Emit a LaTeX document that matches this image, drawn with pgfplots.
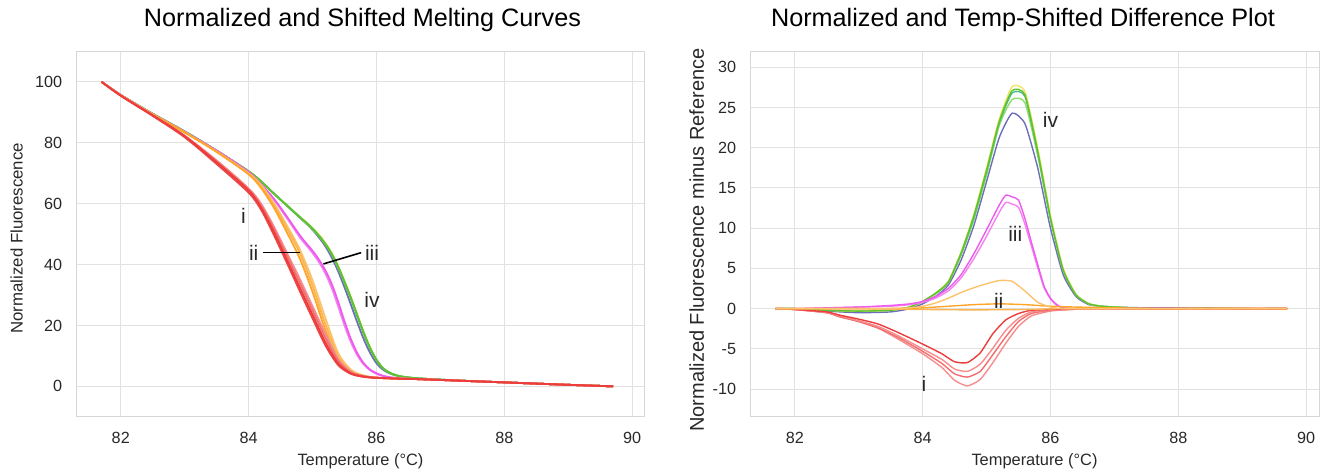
\documentclass[border=0pt]{standalone}
\usepackage{fontspec}
\setmainfont{Liberation Sans}
\usepackage{pgfplots}
\pgfplotsset{compat=1.18}

\definecolor{gridgray}{RGB}{226,226,226}
\definecolor{framegray}{RGB}{215,215,215}
\definecolor{txt}{RGB}{40,40,40}
\definecolor{redA}{RGB}{236,60,60}
\definecolor{redB}{RGB}{242,110,110}
\definecolor{redC}{RGB}{246,140,140}
\definecolor{redD}{RGB}{236,70,70}
\definecolor{orA}{RGB}{255,165,40}
\definecolor{orB}{RGB}{252,195,110}
\definecolor{orC}{RGB}{250,180,80}
\definecolor{magA}{RGB}{238,90,238}
\definecolor{magB}{RGB}{245,130,240}
\definecolor{grA}{RGB}{95,195,45}
\definecolor{grB}{RGB}{140,220,110}
\definecolor{grC}{RGB}{80,185,140}
\definecolor{yelA}{RGB}{240,230,100}
\definecolor{bluA}{RGB}{110,110,185}

\pgfplotsset{panel/.style={
  scale only axis, width=284.5pt, height=182.25pt,
  xmin=81.3, xmax=90.2,
  xtick={82,84,86,88,90}, xticklabels={82,84,86,88,90},
  grid=major, major grid style={draw=gridgray, line width=0.5pt},
  axis line style={draw=framegray, line width=0.5pt},
  major tick length=0pt,
  tick label style={font=\fontsize{8.1}{9}\selectfont, text=txt},
  xticklabel style={anchor=center, yshift=-10.75pt},
  yticklabel style={anchor=east, inner sep=0pt, xshift=-6.75pt},
  xlabel={Temperature (°C)},
  xlabel style={at={(axis description cs:0.5,0)}, anchor=center,
                yshift=-22.6pt, font=\fontsize{8.2}{10}\selectfont, text=txt},
  title style={font=\fontsize{12.6}{15}\selectfont, at={(axis description cs:0.5,1)},
               anchor=center, yshift=10pt},
  clip=true,
}}
\tikzset{lab/.style={font=\fontsize{10.5}{12}\selectfont, text=txt}}

\begin{document}
\begin{tikzpicture}
\useasboundingbox (0,0) rectangle (661pt,237pt);

% ---- left: melting curves
\begin{axis}[panel, at={(38pt,28.75pt)},
  title={Normalized and Shifted Melting Curves}, title style={xshift=1pt},
  ymin=-9.9, ymax=109.8, ytick={0,20,40,60,80,100},
  yticklabels={0,20,40,60,80,100},
  ylabel={Normalized Fluorescence},
  ylabel style={at={(axis description cs:-0.1042,0.489)}, anchor=center,
                font=\fontsize{8.4}{10}\selectfont, text=txt},
  every axis plot/.append style={line width=0.9pt, smooth},
]
% iv
\addplot[bluA] coordinates {(81.7,100) (82.0,95.7) (82.5,89.5) (83.0,83.7) (83.5,77.4) (84.0,70.6) (84.2,67.2) (84.4,63.2) (84.6,59.3) (84.8,55.4) (84.9,53.5) (85.0,51.4) (85.1,48.9) (85.2,46.0) (85.3,42.3) (85.4,37.8) (85.5,32.5) (85.6,26.8) (85.7,21.0) (85.8,15.5) (85.9,11.0) (86.0,7.6) (86.1,5.5) (86.2,4.3) (86.3,3.6) (86.4,3.1) (86.6,2.7) (87.0,2.2) (87.5,1.7) (88.0,1.3) (88.5,0.9) (89.0,0.5) (89.7,0.0)};
\addplot[yelA] coordinates {(81.7,100) (82.0,95.7) (82.5,89.5) (83.0,83.7) (83.5,77.4) (84.0,70.6) (84.2,67.2) (84.4,63.2) (84.6,59.4) (84.8,55.7) (84.9,53.9) (85.0,52.0) (85.1,49.8) (85.2,47.1) (85.3,43.8) (85.4,39.6) (85.5,34.6) (85.6,29.3) (85.7,23.6) (85.8,17.9) (85.9,12.8) (86.0,8.8) (86.1,6.1) (86.2,4.6) (86.3,3.7) (86.4,3.2) (86.6,2.7) (87.0,2.2) (87.5,1.7) (88.0,1.3) (88.5,0.9) (89.0,0.5) (89.7,0.0)};
\addplot[grB] coordinates {(81.7,100) (82.0,95.7) (82.5,89.5) (83.0,83.7) (83.5,77.4) (84.0,70.6) (84.2,67.2) (84.4,63.2) (84.6,59.4) (84.8,55.5) (84.9,53.6) (85.0,51.6) (85.1,49.3) (85.2,46.6) (85.3,43.3) (85.4,39.0) (85.5,34.0) (85.6,28.7) (85.7,23.0) (85.8,17.3) (85.9,12.4) (86.0,8.6) (86.1,5.9) (86.2,4.5) (86.3,3.7) (86.4,3.2) (86.6,2.7) (87.0,2.2) (87.5,1.7) (88.0,1.3) (88.5,0.9) (89.0,0.5) (89.7,0.0)};
\addplot[grC] coordinates {(81.7,100) (82.0,95.7) (82.5,89.5) (83.0,83.7) (83.5,77.4) (84.0,70.6) (84.2,67.2) (84.4,63.2) (84.6,59.4) (84.8,55.6) (84.9,53.7) (85.0,51.7) (85.1,49.4) (85.2,46.7) (85.3,43.4) (85.4,39.2) (85.5,34.2) (85.6,28.9) (85.7,23.2) (85.8,17.5) (85.9,12.5) (86.0,8.7) (86.1,6.0) (86.2,4.5) (86.3,3.7) (86.4,3.2) (86.6,2.7) (87.0,2.2) (87.5,1.7) (88.0,1.3) (88.5,0.9) (89.0,0.5) (89.7,0.0)};
\addplot[grA] coordinates {(81.7,100) (82.0,95.7) (82.5,89.5) (83.0,83.7) (83.5,77.4) (84.0,70.6) (84.2,67.2) (84.4,63.2) (84.6,59.4) (84.8,55.6) (84.9,53.8) (85.0,51.8) (85.1,49.5) (85.2,46.8) (85.3,43.5) (85.4,39.3) (85.5,34.3) (85.6,29.0) (85.7,23.3) (85.8,17.6) (85.9,12.6) (86.0,8.7) (86.1,6.0) (86.2,4.5) (86.3,3.7) (86.4,3.2) (86.6,2.7) (87.0,2.2) (87.5,1.7) (88.0,1.3) (88.5,0.9) (89.0,0.5) (89.7,0.0)};
% iii
\addplot[magB] coordinates {(81.7,100) (82.0,95.7) (82.5,89.4) (83.0,83.5) (83.5,77.3) (84.0,70.3) (84.2,66.1) (84.4,61.2) (84.6,55.2) (84.8,49.0) (84.9,46.4) (85.0,43.8) (85.1,40.8) (85.2,37.1) (85.3,32.3) (85.4,26.3) (85.5,20.0) (85.6,14.5) (85.7,10.2) (85.8,7.2) (85.9,5.3) (86.0,4.1) (86.1,3.4) (86.2,3.0) (86.4,2.6) (86.6,2.4) (87.0,2.1) (87.5,1.7) (88.0,1.3) (88.5,0.9) (89.0,0.5) (89.7,0.0)};
\addplot[magA] coordinates {(81.7,100) (82.0,95.7) (82.5,89.4) (83.0,83.6) (83.5,77.4) (84.0,70.4) (84.2,66.3) (84.4,61.5) (84.6,55.7) (84.8,49.6) (84.9,47.0) (85.0,44.5) (85.1,41.6) (85.2,38.1) (85.3,33.6) (85.4,27.8) (85.5,21.3) (85.6,15.5) (85.7,10.9) (85.8,7.6) (85.9,5.5) (86.0,4.3) (86.1,3.5) (86.2,3.0) (86.4,2.6) (86.6,2.4) (87.0,2.1) (87.5,1.7) (88.0,1.3) (88.5,0.9) (89.0,0.5) (89.7,0.0)};
% ii
\addplot[orB] coordinates {(81.7,100) (82.0,95.6) (82.5,89.3) (83.0,83.4) (83.5,77.1) (84.0,70.0) (84.2,66.0) (84.4,60.0) (84.6,52.8) (84.8,45.0) (85.0,34.8) (85.2,22.5) (85.4,11.0) (85.6,5.5) (85.8,3.6) (86.0,2.9) (86.4,2.5) (86.6,2.4) (87.0,2.1) (87.5,1.7) (88.0,1.3) (88.5,0.9) (89.0,0.5) (89.7,0.0)};
\addplot[orC] coordinates {(81.7,100) (82.0,95.6) (82.5,89.3) (83.0,83.4) (83.5,77.0) (84.0,69.8) (84.2,65.5) (84.4,59.3) (84.6,51.8) (84.8,43.8) (85.0,33.0) (85.2,20.5) (85.4,9.8) (85.6,5.0) (85.8,3.4) (86.0,2.8) (86.4,2.5) (86.6,2.4) (87.0,2.1) (87.5,1.7) (88.0,1.3) (88.5,0.9) (89.0,0.5) (89.7,0.0)};
\addplot[orA] coordinates {(81.7,100) (82.0,95.6) (82.5,89.3) (83.0,83.4) (83.5,77.0) (84.0,69.6) (84.2,65.0) (84.4,58.5) (84.6,50.5) (84.8,42.0) (85.0,31.0) (85.2,18.5) (85.4,8.5) (85.6,4.5) (85.8,3.3) (86.0,2.8) (86.4,2.5) (86.6,2.4) (87.0,2.1) (87.5,1.7) (88.0,1.3) (88.5,0.9) (89.0,0.5) (89.7,0.0)};
% i
\addplot[redC] coordinates {(81.7,100) (82.0,95.5) (82.5,89.0) (83.0,82.3) (83.5,74.2) (84.0,65.0) (84.2,59.8) (84.4,52.3) (84.6,43.8) (84.8,35.3) (85.0,26.3) (85.2,17.3) (85.4,9.0) (85.6,4.8) (85.8,3.4) (86.0,2.9) (86.4,2.5) (86.6,2.4) (87.0,2.1) (87.5,1.7) (88.0,1.3) (88.5,0.9) (89.0,0.5) (89.7,0.0)};
\addplot[redB] coordinates {(81.7,100) (82.0,95.5) (82.5,89.0) (83.0,82.2) (83.5,73.8) (84.0,64.6) (84.2,59.2) (84.4,51.5) (84.6,42.8) (84.8,34.0) (85.0,25.0) (85.2,16.0) (85.4,8.3) (85.6,4.5) (85.8,3.3) (86.0,2.8) (86.4,2.5) (86.6,2.4) (87.0,2.1) (87.5,1.7) (88.0,1.3) (88.5,0.9) (89.0,0.5) (89.7,0.0)};
\addplot[redD] coordinates {(81.7,100) (82.0,95.4) (82.5,88.8) (83.0,81.8) (83.5,73.0) (84.0,63.6) (84.2,57.8) (84.4,49.5) (84.6,40.5) (84.8,31.3) (85.0,22.3) (85.2,13.5) (85.4,7.0) (85.6,4.1) (85.8,3.1) (86.0,2.8) (86.4,2.5) (86.6,2.4) (87.0,2.1) (87.5,1.7) (88.0,1.3) (88.5,0.9) (89.0,0.5) (89.7,0.0)};
\addplot[redA] coordinates {(81.7,100) (82.0,95.5) (82.5,89.0) (83.0,82.2) (83.5,73.6) (84.0,64.3) (84.2,58.5) (84.4,50.5) (84.6,41.5) (84.8,32.5) (85.0,23.5) (85.2,14.5) (85.4,7.5) (85.6,4.3) (85.8,3.2) (86.0,2.8) (86.4,2.5) (86.6,2.4) (87.0,2.1) (87.5,1.7) (88.0,1.3) (88.5,0.9) (89.0,0.5) (89.7,0.0)};

\node[lab] at (axis cs:83.92,56.0) {i};
\node[lab] at (axis cs:84.08,43.7) {ii};
\draw[black, line width=0.8pt] (axis cs:84.22,44.0) -- (axis cs:84.80,44.0);
\node[lab] at (axis cs:85.93,43.7) {iii};
\draw[black, line width=0.8pt] (axis cs:85.17,40.2) -- (axis cs:85.76,43.9);
\node[lab] at (axis cs:85.93,28.4) {iv};
\end{axis}

% ---- right: difference plot
\begin{axis}[panel, at={(375pt,28.75pt)},
  title={Normalized and Temp-Shifted Difference Plot}, title style={xshift=-5.75pt},
  ymin=-13.4, ymax=31.9, ytick={-10,-5,0,5,10,15,20,25,30},
  yticklabels={-10,-5,0,5,10,15,20,25,30},
  ylabel={Normalized Fluorescence minus Reference},
  ylabel style={at={(axis description cs:-0.0937,0.484)}, anchor=center,
                font=\fontsize{10}{12}\selectfont, text=txt},
  every axis plot/.append style={line width=0.7pt, smooth, tension=0.35},
]
% iv
\addplot[bluA] coordinates {(81.7,0) (82.0,0) (82.5,-0.3) (83.0,-0.5) (83.5,-0.4) (83.8,0.0) (84.0,0.6) (84.2,1.5) (84.4,2.9) (84.6,6.0) (84.8,10.3) (85.0,15.8) (85.2,21.3) (85.4,24.3) (85.6,23.0) (85.8,17.5) (86.0,10.0) (86.2,4.2) (86.4,1.5) (86.6,0.5) (86.8,0.3) (87.0,0.2) (87.5,0.1) (88.0,0.1) (88.5,0.1) (89.0,0.0) (89.7,0.0)};
\addplot[grB] coordinates {(81.7,0) (82.0,0) (82.5,-0.2) (83.0,-0.3) (83.5,-0.2) (83.8,0.2) (84.0,0.9) (84.2,1.8) (84.4,3.2) (84.6,6.6) (84.8,11.0) (85.0,16.6) (85.2,22.8) (85.4,26.0) (85.6,25.6) (85.8,19.0) (86.0,11.0) (86.2,4.7) (86.4,1.7) (86.6,0.6) (86.8,0.3) (87.0,0.2) (87.5,0.0) (88.0,0.0) (88.5,0.1) (89.0,0.0) (89.7,0.0)};
\addplot[grC] coordinates {(81.7,0) (82.0,0) (82.5,-0.2) (83.0,-0.3) (83.5,-0.2) (83.8,0.2) (84.0,0.9) (84.2,1.9) (84.4,3.3) (84.6,6.8) (84.8,11.3) (85.0,17.0) (85.2,23.1) (85.4,26.8) (85.6,26.4) (85.8,19.4) (86.0,11.2) (86.2,4.8) (86.4,1.7) (86.6,0.6) (86.8,0.3) (87.0,0.2) (87.5,0.0) (88.0,0.0) (88.5,0.1) (89.0,0.0) (89.7,0.0)};
\addplot[yelA] coordinates {(81.7,0) (82.0,0) (82.5,-0.2) (83.0,-0.3) (83.5,-0.2) (83.8,0.2) (84.0,0.9) (84.2,1.9) (84.4,3.4) (84.6,7.0) (84.8,11.7) (85.0,17.5) (85.2,23.6) (85.4,27.6) (85.6,27.0) (85.8,20.0) (86.0,11.6) (86.2,5.0) (86.4,1.8) (86.6,0.6) (86.8,0.3) (87.0,0.2) (87.5,0.0) (88.0,0.0) (88.5,0.1) (89.0,0.0) (89.7,0.0)};
\addplot[grA] coordinates {(81.7,0) (82.0,0) (82.5,-0.2) (83.0,-0.3) (83.5,-0.2) (83.8,0.2) (84.0,0.9) (84.2,1.9) (84.4,3.3) (84.6,6.9) (84.8,11.5) (85.0,17.2) (85.2,23.3) (85.4,27.1) (85.6,26.6) (85.8,19.6) (86.0,11.3) (86.2,4.8) (86.4,1.7) (86.6,0.6) (86.8,0.3) (87.0,0.2) (87.5,0.0) (88.0,0.0) (88.5,0.1) (89.0,0.0) (89.7,0.0)};
% iii
\addplot[magB] coordinates {(81.7,0) (82.0,0) (82.5,0.1) (83.0,0.2) (83.5,0.3) (83.8,0.5) (84.0,0.8) (84.2,1.3) (84.4,2.2) (84.6,3.8) (84.8,6.2) (85.0,9.0) (85.2,12.0) (85.3,13.2) (85.4,13.0) (85.5,12.6) (85.6,10.5) (85.7,7.8) (85.8,5.1) (85.9,2.6) (86.0,1.2) (86.1,0.4) (86.2,0.1) (86.4,0.0) (87.0,0.0) (88.0,0.0) (89.7,0.0)};
\addplot[magA] coordinates {(81.7,0) (82.0,0) (82.5,0.1) (83.0,0.2) (83.5,0.4) (83.8,0.6) (84.0,0.9) (84.2,1.5) (84.4,2.5) (84.6,4.2) (84.8,6.8) (85.0,9.8) (85.2,12.9) (85.3,14.1) (85.4,13.9) (85.5,13.5) (85.6,11.2) (85.7,8.3) (85.8,5.5) (85.9,2.8) (86.0,1.3) (86.1,0.5) (86.2,0.1) (86.4,0.0) (87.0,0.0) (88.0,0.0) (89.7,0.0)};
% i
\addplot[redC] coordinates {(81.7,0) (82.0,-0.1) (82.5,-0.5) (82.7,-1.0) (83.0,-1.6) (83.3,-2.4) (83.6,-3.7) (84.0,-5.6) (84.3,-7.3) (84.5,-8.9) (84.7,-9.6) (84.9,-8.8) (85.1,-6.7) (85.3,-4.3) (85.5,-2.2) (85.7,-0.9) (86.0,-0.3) (86.3,-0.1) (86.6,0.0) (87.0,0.0) (88.0,0.0) (89.7,0.0)};
\addplot[redB] coordinates {(81.7,0) (82.0,-0.1) (82.5,-0.5) (82.7,-1.0) (83.0,-1.6) (83.3,-2.4) (83.6,-3.5) (84.0,-5.3) (84.3,-6.8) (84.5,-8.1) (84.7,-8.5) (84.9,-7.8) (85.1,-5.7) (85.3,-3.5) (85.5,-1.6) (85.7,-0.6) (86.0,-0.2) (86.3,-0.1) (86.6,0.0) (87.0,0.0) (88.0,0.0) (89.7,0.0)};
\addplot[redC] coordinates {(81.7,0) (82.0,-0.1) (82.5,-0.5) (82.7,-0.9) (83.0,-1.5) (83.3,-2.2) (83.6,-3.3) (84.0,-5.0) (84.3,-6.3) (84.5,-7.5) (84.7,-7.8) (84.9,-6.9) (85.1,-4.9) (85.3,-2.7) (85.5,-1.2) (85.7,-0.4) (86.0,-0.2) (86.3,-0.1) (86.6,0.0) (87.0,0.0) (88.0,0.0) (89.7,0.0)};
\addplot[redA] coordinates {(81.7,0) (82.0,-0.1) (82.5,-0.4) (82.7,-0.8) (83.0,-1.3) (83.3,-1.9) (83.6,-2.9) (84.0,-4.4) (84.3,-5.6) (84.5,-6.6) (84.7,-6.7) (84.9,-5.5) (85.1,-3.1) (85.3,-1.4) (85.5,-0.6) (85.7,-0.2) (86.0,-0.1) (86.5,0.0) (87.0,0.0) (88.0,0.0) (89.0,0.0) (89.7,0.0)};
% ii
\addplot[orC] coordinates {(81.7,0) (83.0,0) (84.0,-0.1) (84.8,-0.15) (85.6,-0.1) (86.2,0.0) (87.0,0.0) (88.0,0.0) (89.0,0.05) (89.7,0.0)};
\addplot[orA] coordinates {(81.7,0) (83.0,0) (83.8,0.05) (84.0,0.1) (84.4,0.3) (84.8,0.5) (85.2,0.6) (85.6,0.5) (86.0,0.3) (86.4,0.2) (87.0,0.1) (87.5,0.0) (88.5,0.0) (89.7,0.0)};
\addplot[orB] coordinates {(81.7,0) (83.0,0) (83.5,0.0) (83.8,0.1) (84.0,0.3) (84.2,0.7) (84.4,1.3) (84.6,2.0) (84.8,2.6) (85.0,3.1) (85.2,3.5) (85.4,3.4) (85.6,2.2) (85.8,0.8) (86.0,0.2) (86.2,0.0) (87.0,0.0) (89.7,0.0)};

\node[lab] at (axis cs:86.00,23.5) {iv};
\node[lab] at (axis cs:85.45,9.3) {iii};
\node[lab] at (axis cs:85.19,1.0) {ii};
\node[lab] at (axis cs:84.02,-9.3) {i};
\end{axis}
\end{tikzpicture}
\end{document}
